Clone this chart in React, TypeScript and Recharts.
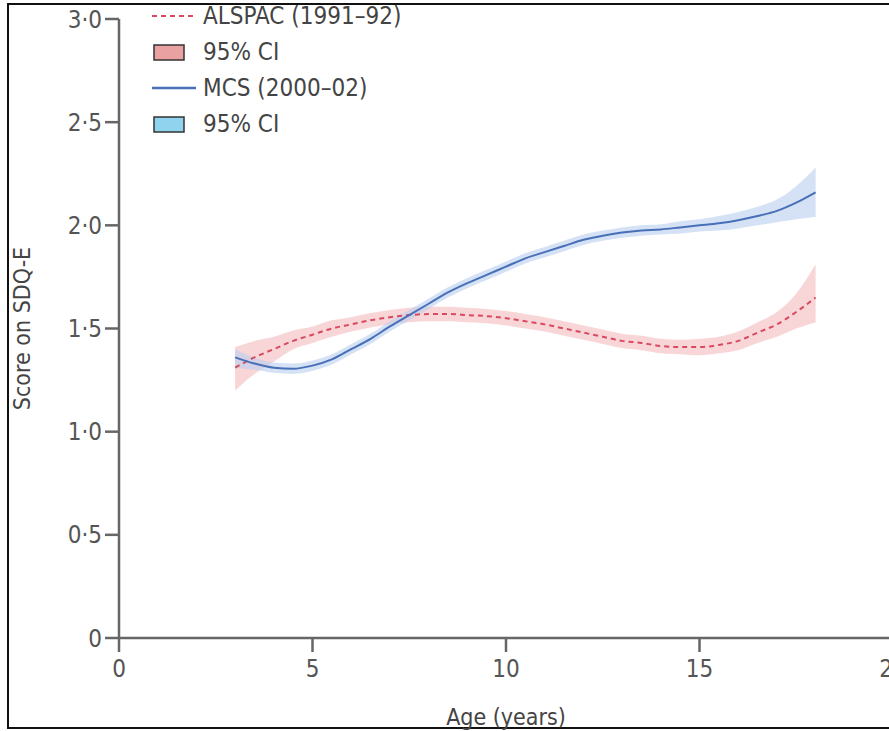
import React from 'react';
import { ComposedChart, Area, Line, XAxis, YAxis, Label } from 'recharts';

const AGES = [3, 3.5, 4, 4.5, 5, 5.5, 6, 6.5, 7, 7.5, 8, 8.5, 9, 9.5, 10, 10.5, 11, 11.5, 12, 12.5, 13, 13.5, 14, 14.5, 15, 15.5, 16, 16.5, 17, 17.5, 18];

// ALSPAC (1991-92)
const ALSPAC = [1.31, 1.36, 1.40, 1.44, 1.47, 1.50, 1.52, 1.54, 1.555, 1.565, 1.57, 1.57, 1.565, 1.56, 1.55, 1.535, 1.52, 1.50, 1.48, 1.46, 1.44, 1.43, 1.415, 1.41, 1.41, 1.42, 1.44, 1.48, 1.52, 1.58, 1.65];
const ALSPAC_LO = [1.20, 1.28, 1.34, 1.40, 1.43, 1.46, 1.485, 1.505, 1.52, 1.53, 1.535, 1.535, 1.53, 1.525, 1.515, 1.50, 1.485, 1.465, 1.445, 1.425, 1.405, 1.395, 1.38, 1.375, 1.37, 1.38, 1.395, 1.43, 1.46, 1.50, 1.53];
const ALSPAC_HI = [1.41, 1.44, 1.46, 1.49, 1.51, 1.54, 1.555, 1.575, 1.59, 1.60, 1.605, 1.605, 1.60, 1.595, 1.585, 1.57, 1.555, 1.535, 1.515, 1.495, 1.475, 1.465, 1.45, 1.445, 1.45, 1.46, 1.485, 1.53, 1.58, 1.67, 1.81];

// MCS (2000-02)
const MCS = [1.36, 1.33, 1.31, 1.305, 1.32, 1.35, 1.40, 1.45, 1.51, 1.565, 1.62, 1.675, 1.72, 1.76, 1.80, 1.84, 1.87, 1.90, 1.93, 1.95, 1.965, 1.975, 1.98, 1.99, 2.0, 2.01, 2.025, 2.045, 2.07, 2.11, 2.16];
const MCS_LO = [1.31, 1.30, 1.285, 1.28, 1.295, 1.325, 1.375, 1.425, 1.485, 1.54, 1.595, 1.65, 1.695, 1.735, 1.775, 1.815, 1.845, 1.875, 1.905, 1.925, 1.94, 1.95, 1.955, 1.96, 1.97, 1.975, 1.985, 2.0, 2.015, 2.03, 2.04];
const MCS_HI = [1.40, 1.36, 1.335, 1.33, 1.345, 1.375, 1.425, 1.475, 1.535, 1.59, 1.645, 1.70, 1.745, 1.785, 1.825, 1.865, 1.895, 1.925, 1.955, 1.975, 1.99, 2.0, 2.005, 2.02, 2.03, 2.045, 2.065, 2.09, 2.125, 2.19, 2.28];

const X_TICKS = [0, 5, 10, 15, 20];
const Y_TICKS = [0, 0.5, 1, 1.5, 2, 2.5, 3];

const data = AGES.map((age, i) => ({
  age,
  alspac: ALSPAC[i],
  alspacCI: [ALSPAC_LO[i], ALSPAC_HI[i]],
  mcs: MCS[i],
  mcsCI: [MCS_LO[i], MCS_HI[i]],
}));

const FONT = '"DejaVu Sans Condensed", "Liberation Sans Narrow", "Open Sans", sans-serif';
const AXIS = '#666';
const RED = '#d9495f';
const BLUE = '#4870b8';

const fmtY = (v: number) => (v === 0 ? '0' : v.toFixed(1).replace('.', '·'));

function LegendBox() {
  const row = { display: 'flex', alignItems: 'center', height: 36 } as const;
  const text = { fontSize: 24, color: '#444', marginLeft: 5, fontStretch: 'condensed' } as const;
  const swatch = (fill: string) => (
    <svg width={48} height={20}>
      <rect x={4} y={3} width={30} height={15} fill={fill} stroke="#333" strokeWidth={1.5} />
    </svg>
  );
  return (
    <div style={{ position: 'absolute', left: 150, top: -2, fontFamily: FONT }}>
      <div style={row}>
        <svg width={48} height={20}>
          <line x1={2} y1={10} x2={46} y2={10} stroke={RED} strokeWidth={2} strokeDasharray="5 4" />
        </svg>
        <span style={text}>ALSPAC (1991–92)</span>
      </div>
      <div style={row}>
        {swatch('#eaa1a1')}
        <span style={text}>95% CI</span>
      </div>
      <div style={row}>
        <svg width={48} height={20}>
          <line x1={2} y1={10} x2={46} y2={10} stroke={BLUE} strokeWidth={2.5} />
        </svg>
        <span style={text}>MCS (2000–02)</span>
      </div>
      <div style={row}>
        {swatch('#8fd3ef')}
        <span style={text}>95% CI</span>
      </div>
    </div>
  );
}

export default function App() {
  return (
    <div style={{ position: 'absolute', left: 0, top: 0, width: 889, height: 731, overflow: 'hidden', background: '#fff' }}>
      <div style={{ position: 'absolute', left: 7, top: 3, width: 1000, height: 722, border: '2px solid #111' }} />
      <div style={{ position: 'absolute', left: 0, top: 0 }}>
        <ComposedChart
          width={950}
          height={731}
          data={data}
          margin={{ top: 19, right: 57, left: 0, bottom: 0 }}
          style={{ fontFamily: FONT, fontStretch: 'condensed' }}
        >
          <XAxis
            dataKey="age"
            type="number"
            domain={[0, 20]}
            ticks={X_TICKS}
            height={93}
            stroke={AXIS}
            strokeWidth={2.5}
            tickSize={14}
            tickMargin={8}
            tick={{ fill: '#555', fontSize: 24 }}
            tickLine={{ stroke: AXIS, strokeWidth: 2.5 }}
          >
            <Label value="Age (years)" position="insideBottom" offset={6} style={{ fill: '#444', fontSize: 23 }} />
          </XAxis>
          <YAxis
            type="number"
            domain={[0, 3]}
            ticks={Y_TICKS}
            width={119}
            stroke={AXIS}
            strokeWidth={2.5}
            tickSize={14}
            tickMargin={3}
            tickFormatter={fmtY}
            tick={{ fill: '#555', fontSize: 24 }}
            tickLine={{ stroke: AXIS, strokeWidth: 2.5 }}
          >
            <Label
              value="Score on SDQ-E"
              angle={-90}
              position="insideLeft"
              offset={22}
              style={{ fill: '#444', fontSize: 23, textAnchor: 'middle' }}
            />
          </YAxis>
          <Area
            dataKey="alspacCI"
            type="monotone"
            stroke="none"
            fill="#f3b4b6"
            fillOpacity={0.55}
            isAnimationActive={false}
          />
          <Area
            dataKey="mcsCI"
            type="monotone"
            stroke="none"
            fill="#b9cdef"
            fillOpacity={0.6}
            isAnimationActive={false}
          />
          <Line
            dataKey="alspac"
            type="monotone"
            stroke={RED}
            strokeWidth={2}
            strokeDasharray="5 4"
            dot={false}
            isAnimationActive={false}
          />
          <Line
            dataKey="mcs"
            type="monotone"
            stroke={BLUE}
            strokeWidth={2}
            dot={false}
            isAnimationActive={false}
          />
        </ComposedChart>
      </div>
      <LegendBox />
    </div>
  );
}
